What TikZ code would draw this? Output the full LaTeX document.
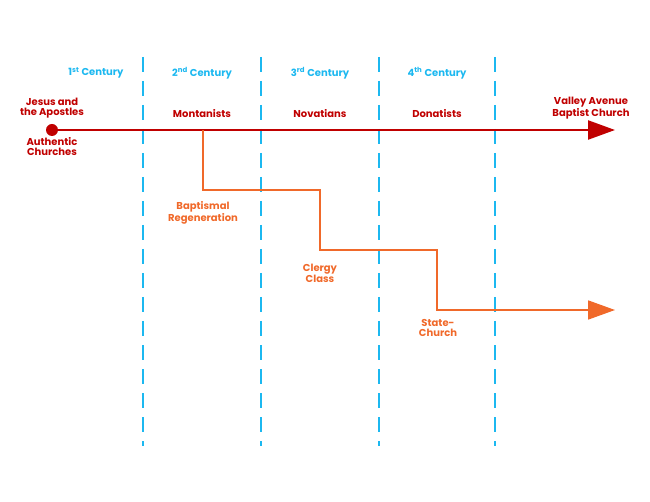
\documentclass[tikz,border=0pt]{standalone}
\usepackage{fontspec}
\setmainfont{Poppins}
\usetikzlibrary{arrows.meta}
\definecolor{cred}{HTML}{C00000}
\definecolor{cblue}{HTML}{1CB8F0}
\definecolor{corange}{HTML}{F0692A}
\begin{document}
\begin{tikzpicture}[x=1pt,y=-1pt,
  lbl/.style={font=\fontsize{10}{10}\selectfont\bfseries, align=center, inner sep=0pt},
  century/.style={lbl, text=cblue},
  group/.style={lbl, text=cred},
  error/.style={lbl, text=corange},
  divider/.style={draw=cblue, line width=1.6pt, dash pattern=on 15pt off 9pt},
  mainline/.style={draw=cred, line width=2.4pt, -{Triangle[length=27pt,width=19pt]}},
  driftline/.style={draw=corange, line width=1.8pt, -{Triangle[length=27pt,width=19pt]}}]
\useasboundingbox (0,0) rectangle (650,502);
% dividers
\foreach \x/\n in {143/a,261/b,379/c,495/d}{
  \coordinate (top\n) at (\x,57);
  \coordinate (bot\n) at (\x,446);
  \draw[divider] (top\n) -- (bot\n);
}
% century labels
\node[century] (c1) at (96,73) {1\textsuperscript{st} Century};
\node[century] (c2) at (202,73) {2\textsuperscript{nd} Century};
\node[century] (c3) at (320,73) {3\textsuperscript{rd} Century};
\node[century] (c4) at (437,73) {4\textsuperscript{th} Century};
% main line
\coordinate (start) at (52,130);
\coordinate (endmain) at (615,130);
\draw[mainline] (start) -- (endmain);
\fill[cred] (start) circle (6pt);
\node[group] (jesus) at (52,108) {Jesus and\\the Apostles};
\node[group] (auth) at (52,147) {Authentic\\Churches};
\node[group] (mont) at (202,114) {Montanists};
\node[group] (nov) at (320,114) {Novatians};
\node[group] (don) at (437,114) {Donatists};
\node[group] (vab) at (591,108) {Valley Avenue\\Baptist Church};
% drift line
\coordinate (d0) at (203,130);
\coordinate (endd) at (615,310);
\draw[driftline] (d0) -- (203,190) -- (320,190) -- (320,250) -- (437,250) -- (437,310) -- (endd);
\node[error] (bap) at (203,213) {Baptismal\\Regeneration};
\node[error] (cler) at (320,273) {Clergy\\Class};
\node[error] (state) at (438,328) {State-\\Church};
\end{tikzpicture}
\end{document}
